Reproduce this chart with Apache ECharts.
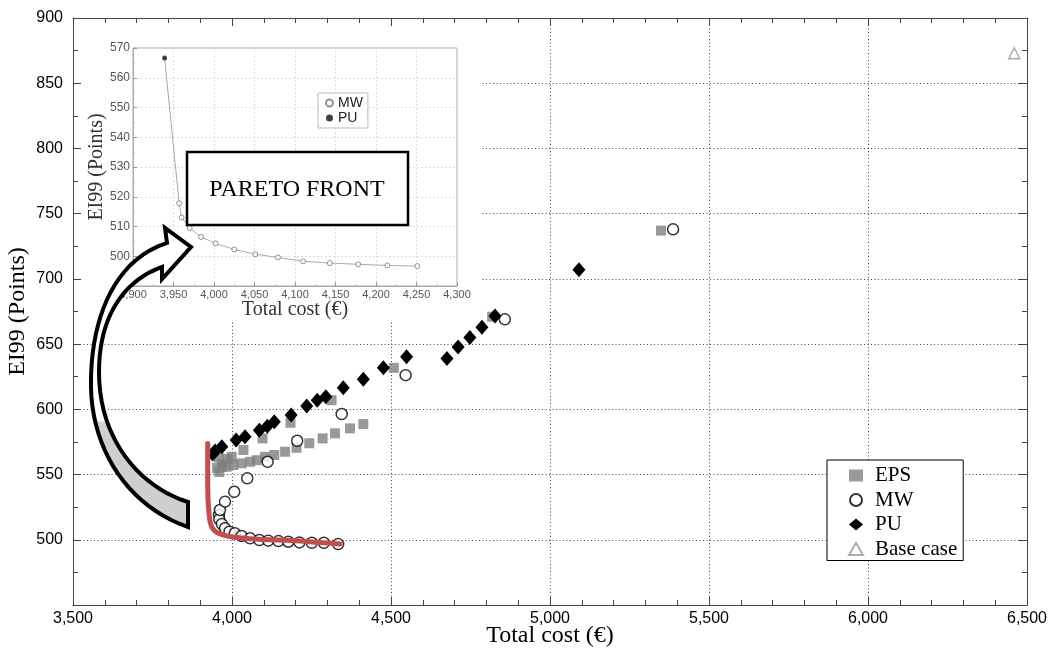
<!DOCTYPE html>
<html>
<head>
<meta charset="utf-8">
<script src="https://cdn.jsdelivr.net/npm/echarts@6/dist/echarts.min.js"></script>
<style>
  html, body { margin: 0; padding: 0; background: #fff; }
  #chart { width: 1053px; height: 652px; }
</style>
</head>
<body>
<div id="chart"></div>
<script>
  // main chart, [total cost, EI99]
  const epsPoints = [
    [3953, 555], [3958, 563], [3960, 552], [3968, 556], [3970, 558], [3983, 556], [3985, 562],
    [3999, 563.6], [4004, 557.3], [4030, 558.6], [4036, 568.8], [4057, 559.8], [4078, 561],
    [4096, 577.7], [4104, 563.6], [4133, 565], [4167, 567.5], [4184, 589.7], [4203, 570.5],
    [4243, 574], [4285, 577.7], [4313, 607], [4324, 581.6], [4371, 585.4], [4413, 588.7],
    [4509, 631.8], [4818, 671], [5349, 737]
  ]
  const mwPoints = [
    [3959, 519], [3960, 515.7], [3962, 522.8], [3968, 512], [3978, 508.8], [3978, 529.2],
    [3992, 506.2], [4007, 536.8], [4009, 505], [4030, 502.9], [4048, 547.1], [4057, 501.1],
    [4086, 499.8], [4112, 559.8], [4114, 499.3], [4146, 499], [4177, 498.5], [4205, 575.9],
    [4212, 498], [4251, 497.7], [4289, 497.7], [4334, 496.7], [4345, 596.4], [4546, 626.2],
    [4858, 669], [5387, 738]
  ]
  const puPoints = [
    [3939, 565.7], [3947, 568], [3968, 571.3], [4013, 576.4], [4041, 579], [4086, 584],
    [4111, 587], [4133, 590.5], [4186, 595.6], [4235, 602.5], [4268, 607], [4295, 609.6],
    [4350, 616.5], [4413, 623], [4476, 631.8], [4549, 640.3], [4676, 639], [4711, 647.7],
    [4748, 655], [4786, 663], [4827, 671.5], [5091, 707]
  ]
  const basePoints = [[6460, 873]]
  const frontLine = [
    [3923.6, 573.9], [3923.6, 540.6], [3927.7, 520.3], [3936, 510], [3957, 505],
    [4009, 501.9], [4093, 500.3], [4198, 499.3], [4340, 496.7]
  ]

  // inset (pareto front)
  const insetPu = [[3939, 566.6]]
  const insetMw = [
    [3957, 517.8], [3960, 513], [3970, 509.5], [3984, 506.5], [4002, 504.3], [4025, 502.3],
    [4051, 500.7], [4079, 499.6], [4110, 498.3], [4143, 497.7], [4178, 497.3], [4214, 496.9],
    [4251, 496.7]
  ]

  const fmt = v => v.toLocaleString('en-US')
  const sans = 'Liberation Sans'
  const serif = 'Liberation Serif'

  // curved arrow outline, sampled from cubic segments (pixel space)
  function cubic (p0, p1, p2, p3, n) {
    const pts = []
    for (let i = 0; i <= n; i++) {
      const t = i / n, u = 1 - t
      pts.push([
        u * u * u * p0[0] + 3 * u * u * t * p1[0] + 3 * u * t * t * p2[0] + t * t * t * p3[0],
        u * u * u * p0[1] + 3 * u * u * t * p1[1] + 3 * u * t * t * p2[1] + t * t * t * p3[1]
      ])
    }
    return pts
  }
  const arrowPts = [].concat(
    cubic([167, 243], [108, 262], [90, 330], [91, 387], 20),
    cubic([91, 387], [92, 452], [130, 507], [188, 527], 20),
    [[188, 502]],
    cubic([188, 502], [140, 487], [99, 440], [99, 372], 20),
    cubic([99, 372], [99, 315], [125, 280], [162, 267], 20),
    [[162, 279], [191, 247], [165, 228]]
  )

  const frameLine = { show: true, lineStyle: { color: '#444', width: 1 } }
  const tick = { show: true, inside: true, length: 8, lineStyle: { color: '#444' } }
  const minor = { show: true, length: 5, lineStyle: { color: '#444' } }
  const insetLine = { show: true, lineStyle: { color: '#aaa', width: 1 } }
  const insetTick = { show: true, inside: true, length: 4, lineStyle: { color: '#999' } }

  const chart = echarts.init(document.getElementById('chart'))
  chart.setOption({
    animation: false,
    grid: [
      { left: 73, right: 26, top: 18, bottom: 47, outerBoundsMode: 'none' },
      { left: 133, top: 48, width: 324, height: 238, show: true, z: 3, outerBoundsMode: 'none',
        backgroundColor: '#fff', borderColor: '#aaa', borderWidth: 1 },
      { left: 73, right: 26, top: 18, bottom: 47, outerBoundsMode: 'none' }
    ],
    xAxis: [
      { gridIndex: 0, type: 'value', min: 3500, max: 6500, interval: 500, z: 5,
        axisLine: frameLine, axisTick: tick, minorTick: { ...minor, splitNumber: 5 },
        splitLine: { show: false },
        axisLabel: { formatter: fmt, fontFamily: sans, fontSize: 16, color: '#000', margin: 6 },
        name: 'Total cost (€)', nameLocation: 'middle', nameGap: 19, nameMoveOverlap: false,
        nameTextStyle: { fontFamily: serif, fontSize: 24, color: '#000' } },
      { gridIndex: 0, type: 'value', position: 'top', min: 3500, max: 6500, interval: 500, z: 5,
        axisLine: frameLine, axisTick: tick, minorTick: { ...minor, splitNumber: 5 },
        splitLine: { show: false }, axisLabel: { show: false } },
      { gridIndex: 2, type: 'value', min: 3500, max: 6500, interval: 500, z: 0,
        axisLine: { show: false }, axisTick: { show: false }, axisLabel: { show: false },
        splitLine: { show: true, lineStyle: { color: '#444', type: [1, 2.5], width: 1 } } },
      { gridIndex: 1, type: 'value', min: 3900, max: 4300, interval: 50, z: 3,
        axisLine: insetLine, axisTick: insetTick, minorTick: { show: true, length: 2, splitNumber: 2, lineStyle: { color: '#bbb' } },
        splitLine: { show: true, lineStyle: { color: '#ddd', type: [2, 2] } },
        axisLabel: { formatter: fmt, fontFamily: sans, fontSize: 11, color: '#555', margin: 3 },
        name: 'Total cost (€)', nameLocation: 'middle', nameGap: 14, nameMoveOverlap: false,
        nameTextStyle: { fontFamily: serif, fontSize: 20, color: '#333' } }
    ],
    yAxis: [
      { gridIndex: 0, type: 'value', min: 450, max: 900, interval: 50, z: 5,
        axisLine: frameLine, axisTick: tick, minorTick: { ...minor, splitNumber: 2 },
        splitLine: { show: false },
        axisLabel: { formatter: v => v === 450 ? '' : fmt(v), fontFamily: sans, fontSize: 16, color: '#000', margin: 10 },
        name: 'EI99 (Points)', nameLocation: 'middle', nameGap: 43, nameMoveOverlap: false,
        nameTextStyle: { fontFamily: serif, fontSize: 24, color: '#000' } },
      { gridIndex: 0, type: 'value', position: 'right', min: 450, max: 900, interval: 50, z: 5,
        axisLine: frameLine, axisTick: tick, minorTick: { ...minor, splitNumber: 2 },
        splitLine: { show: false }, axisLabel: { show: false } },
      { gridIndex: 2, type: 'value', min: 450, max: 900, interval: 50, z: 0,
        axisLine: { show: false }, axisTick: { show: false }, axisLabel: { show: false },
        splitLine: { show: true, lineStyle: { color: '#444', type: [1, 2.5], width: 1 } } },
      { gridIndex: 1, type: 'value', min: 490, max: 570, interval: 10, z: 3,
        axisLine: insetLine, axisTick: insetTick, minorTick: { show: true, length: 2, splitNumber: 2, lineStyle: { color: '#bbb' } },
        splitLine: { show: true, lineStyle: { color: '#ddd', type: [2, 2] } },
        axisLabel: { formatter: v => v === 490 ? '' : v, fontFamily: sans, fontSize: 12, color: '#555', margin: 3 },
        name: 'EI99 (Points)', nameLocation: 'middle', nameGap: 26, nameMoveOverlap: false,
        nameTextStyle: { fontFamily: serif, fontSize: 20, color: '#333' } }
    ],
    legend: [
      {
        data: ['EPS', 'MW', 'PU', 'Base case'],
        orient: 'vertical', left: 827, top: 460,
        itemWidth: 14, itemHeight: 12, itemGap: 3.5,
        padding: [5, 6, 1, 21],
        borderColor: '#000', borderWidth: 1, backgroundColor: '#fff',
        textStyle: { fontFamily: serif, fontSize: 21, lineHeight: 20, color: '#000', padding: [0, 0, 0, 7] }
      },
      {
        data: ['MW ', 'PU '],
        orient: 'vertical', left: 318, top: 93, z: 6,
        itemWidth: 7, itemHeight: 7, itemGap: 1,
        padding: [3, 5, 3, 7],
        borderColor: '#bbb', borderWidth: 1, backgroundColor: '#fff',
        formatter: n => n.trim(),
        textStyle: { fontFamily: sans, fontSize: 14, color: '#222' }
      }
    ],
    series: [
      { name: 'EPS', type: 'scatter', xAxisIndex: 0, yAxisIndex: 0, data: epsPoints,
        symbol: 'rect', symbolSize: 10, itemStyle: { color: '#808080' } },
      { name: 'MW', type: 'scatter', xAxisIndex: 0, yAxisIndex: 0, data: mwPoints,
        symbol: 'circle', symbolSize: 11, itemStyle: { color: '#fff', borderColor: '#000', borderWidth: 1.5 } },
      { name: 'PU', type: 'scatter', xAxisIndex: 0, yAxisIndex: 0, data: puPoints,
        symbol: 'diamond', symbolSize: [13, 15], itemStyle: { color: '#000', opacity: 1 } },
      { name: 'Base case', type: 'scatter', xAxisIndex: 0, yAxisIndex: 0, data: basePoints,
        symbol: 'triangle', symbolSize: 11, itemStyle: { color: '#fff', borderColor: '#999', borderWidth: 1.5 } },
      { name: 'front', type: 'line', xAxisIndex: 0, yAxisIndex: 0, data: frontLine, z: 5,
        smooth: 0.4, symbol: 'none', lineStyle: { color: '#c0504d', width: 5, cap: 'round' } },
      // inset
      { name: 'insetLine', type: 'line', xAxisIndex: 3, yAxisIndex: 3, z: 4,
        data: insetPu.concat(insetMw), symbol: 'none', lineStyle: { color: '#aaa', width: 1 } },
      { name: 'MW ', type: 'scatter', xAxisIndex: 3, yAxisIndex: 3, z: 5, data: insetMw,
        symbol: 'circle', symbolSize: 5, itemStyle: { color: '#fff', borderColor: '#777', borderWidth: 1 } },
      { name: 'PU ', type: 'scatter', xAxisIndex: 3, yAxisIndex: 3, z: 5, data: insetPu,
        symbol: 'circle', symbolSize: 5, itemStyle: { color: '#111' } }
    ],
    graphic: [
      { type: 'rect', z: 1, shape: { x: 79, y: 25, width: 403, height: 295 }, style: { fill: '#fff' } },
      { type: 'rect', z: 10, shape: { x: 187, y: 152, width: 221, height: 73 },
        style: { fill: '#fff', stroke: '#000', lineWidth: 2.5 } },
      { type: 'text', z: 11, x: 297, y: 190,
        style: { text: 'PARETO FRONT', font: '24px "Liberation Serif"', fill: '#000', align: 'center', verticalAlign: 'middle' } },
      { type: 'polygon', z: 10,
        shape: { points: arrowPts },
        style: {
          stroke: '#000', lineWidth: 4, lineJoin: 'miter',
          fill: { type: 'linear', x: 0, y: 0, x2: 0, y2: 1, colorStops: [
            { offset: 0, color: '#fff' }, { offset: 0.64, color: '#fff' },
            { offset: 0.65, color: '#cfcfcf' }, { offset: 1, color: '#cfcfcf' }] }
        } }
    ]
  })
</script>
</body>
</html>
